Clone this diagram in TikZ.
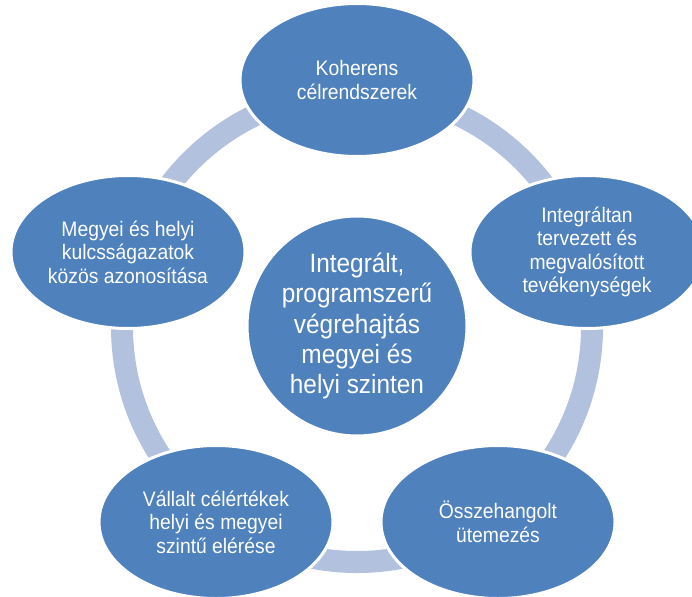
\documentclass[tikz,border=0pt]{standalone}
\usepackage{fontspec}
\setmainfont[FakeStretch=0.92]{Liberation Sans}
\usepackage{tikz}
\usetikzlibrary{shapes.geometric}
\definecolor{stageblue}{RGB}{79,129,189}
\definecolor{ringblue}{RGB}{178,194,222}
\tikzset{stage/.style = {ellipse, fill=stageblue, draw=white, line width=3pt,
                         text=white, align=center, inner sep=0pt,
                         minimum width=234pt, minimum height=153pt,
                         font=\fontsize{21}{23.5}\selectfont},
         hub/.style = {circle, fill=stageblue, draw=white, line width=3pt,
                       text=white, align=center, inner sep=0pt,
                       minimum size=220pt,
                       font=\fontsize{26.5}{30.2}\selectfont},
         ring/.style = {draw=ringblue, line width=22pt}}

\begin{document}
\begin{tikzpicture}[x=1pt, y=-1pt]
    \useasboundingbox (0, 0) rectangle (692, 596);
    \clip (0, 0) rectangle (692, 596);

    \coordinate (mid) at (357, 327);
    \draw [ring] (mid) circle (235);

    \node [hub] (core) at (357, 326) {Integrált,\\programszerű\\végrehajtás\\megyei és\\helyi szinten};

    \node [stage] (goals) at (357, 80) {Koherens\\célrendszerek};
    \node [stage] (actions) at (587, 252) {Integráltan\\tervezett és\\megvalósított\\tevékenységek};
    \node [stage] (timing) at (498, 522) {Összehangolt\\ütemezés};
    \node [stage] (targets) at (216, 522) {Vállalt célértékek\\helyi és megyei\\szintű elérése};
    \node [stage] (sectors) at (128, 252) {Megyei és helyi\\kulcsságazatok\\közös azonosítása};
\end{tikzpicture}
\end{document}
